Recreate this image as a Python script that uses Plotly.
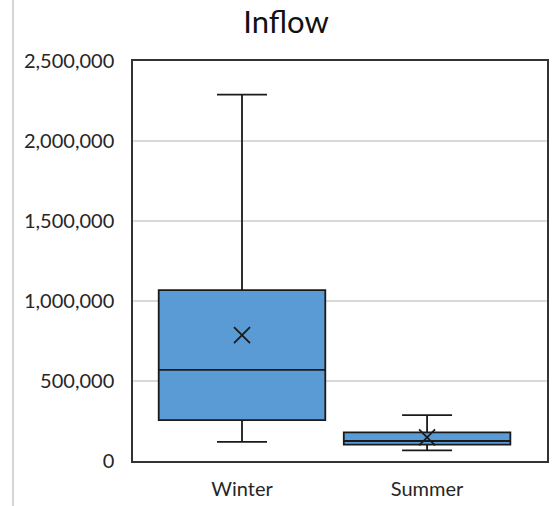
import plotly.graph_objects as go

# Seasonal inflow summary statistics
seasons = ["Winter", "Summer"]
lower_whisker = [120000, 67000]
q1 = [256000, 102000]
median = [570000, 125000]
q3 = [1068000, 179000]
upper_whisker = [2290000, 287000]
mean = [787000, 148000]
y_ticks = [0, 500000, 1000000, 1500000, 2000000, 2500000]

FONT = "Lato, Open Sans, sans-serif"
BOX_FILL = "#5B9BD5"
EDGE = "#1a1a1a"

fig = go.Figure()

fig.add_trace(go.Box(
    x=seasons,
    q1=q1,
    median=median,
    q3=q3,
    lowerfence=lower_whisker,
    upperfence=upper_whisker,
    fillcolor=BOX_FILL,
    line=dict(color=EDGE, width=1.8),
    width=0.9,
    whiskerwidth=0.3,
    boxpoints=False,
    hoverinfo="skip",
    showlegend=False,
))

# Mean markers
fig.add_trace(go.Scatter(
    x=seasons,
    y=mean,
    mode="markers",
    marker=dict(symbol="x-thin", size=16, line=dict(color=EDGE, width=1.8)),
    hoverinfo="skip",
    showlegend=False,
))

L, R, T, B = 133, 12, 61, 45
PW, PH = 559 - L - R, 506 - T - B

fig.update_layout(
    width=559,
    height=506,
    margin=dict(l=L, r=R, t=T, b=B),
    paper_bgcolor="white",
    plot_bgcolor="white",
    font=dict(family=FONT, size=20, color="#262626"),
    title=dict(
        text="Inflow",
        x=(286 - L) / PW,
        xref="paper",
        xanchor="center",
        y=1 - 22 / 506,
        yanchor="middle",
        font=dict(family=FONT, size=31, color="#111111"),
    ),
    shapes=[
        dict(type="line", xref="paper", yref="paper",
             x0=(13 - L) / PW, x1=(13 - L) / PW,
             y0=-(B + 5) / PH, y1=1 + (T + 5) / PH,
             line=dict(color="#c8c8c8", width=1.5)),
    ],
)

fig.update_xaxes(
    type="category",
    range=[-0.589, 1.648],
    automargin=False,
    showline=True,
    linecolor="#333333",
    linewidth=1.5,
    mirror=True,
    showgrid=False,
    ticks="",
    ticklabelstandoff=9,
    tickfont=dict(family=FONT, size=20, color="#262626"),
)

fig.update_yaxes(
    range=[0, 2500000],
    automargin=False,
    tickvals=y_ticks,
    tickformat=",d",
    showline=True,
    linecolor="#333333",
    linewidth=1.5,
    mirror=True,
    showgrid=True,
    gridcolor="#d9d9d9",
    gridwidth=1.5,
    zeroline=False,
    ticks="",
    ticklabelstandoff=13,
    tickfont=dict(family=FONT, size=20, color="#262626"),
)

fig.write_html("out.html")
